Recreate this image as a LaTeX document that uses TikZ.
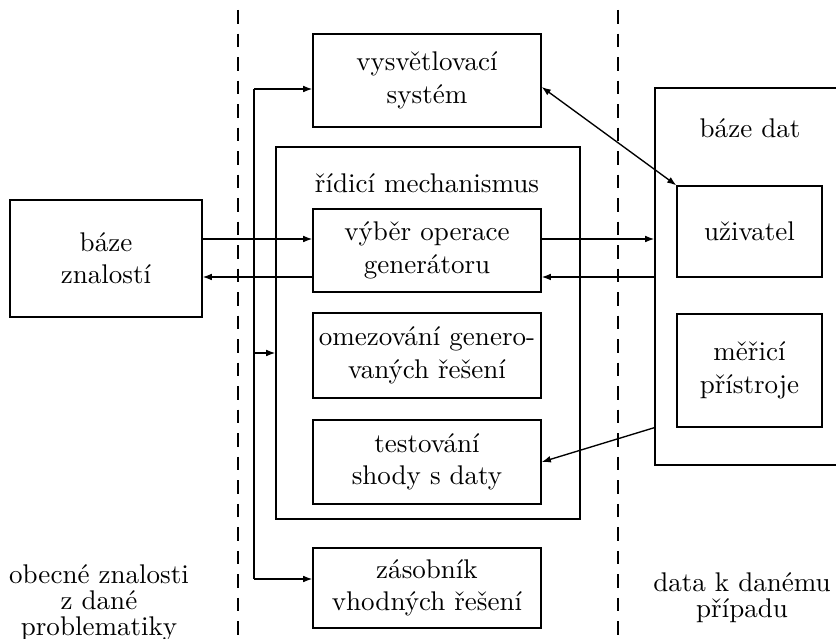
\documentclass[tikz,border=0pt]{standalone}
\usepackage{fontspec}
\usetikzlibrary{positioning}
\usetikzlibrary{arrows.meta}

\begin{document}
\begin{tikzpicture}[
    x=.37pt, y=-.37pt,
    line width=.5pt,
    blok/.style={draw, align=center, inner sep=0pt},
    popis/.style={align=center, inner sep=0pt},
    sipka/.style={-{Latex[length=3.4pt,width=2.5pt]}},
    obesipka/.style={{Latex[length=3.4pt,width=2.5pt]}-{Latex[length=3.4pt,width=2.5pt]}},
    hranice/.style={dash pattern=on 5pt off 3.7pt}
]

    \useasboundingbox (0,0) rectangle (836,639);

    % Hranice
    \draw[hranice] (238,10) -- (238,639);
    \draw[hranice] (618,10) -- (618,639);

    % Baze znalosti
    \node[blok, minimum width=71.04pt, minimum height=43.29pt] (znal) at (106,258.5) {báze\\znalostí};

    % Ridici mechanismus
    \node[blok, minimum width=112.48pt, minimum height=137.64pt] (ridici) at (428,333) {};
    \node[popis] (ridicilbl) at (427,183) {řídicí mechanismus};

    \node[blok, minimum width=84.36pt, minimum height=34.41pt] (vys) at (427,80.5) {vysvětlovací\\systém};
    \node[blok, minimum width=84.36pt, minimum height=30.71pt] (vyber) at (427,250.5) {výběr operace\\generátoru};
    \node[blok, minimum width=84.36pt, minimum height=31.45pt] (omez) at (427,355.5) {omezování genero-\\vaných řešení};
    \node[blok, minimum width=84.36pt, minimum height=31.08pt] (test) at (427,462) {testování\\shody s daty};
    \node[blok, minimum width=84.36pt, minimum height=29.6pt] (zas) at (427,588) {zásobník\\vhodných řešení};

    % Baze dat
    \node[blok, minimum width=70.67pt, minimum height=139.49pt] (data) at (750.5,276.5) {};
    \node[popis] (datalbl) at (750,128) {báze dat};
    \node[blok, minimum width=53.65pt, minimum height=33.67pt] (uziv) at (749.5,231.5) {uživatel};
    \node[blok, minimum width=53.65pt, minimum height=41.81pt] (meric) at (749.5,370.5) {měřicí\\přístroje};

    % Popisky oblasti
    \node[popis] (obecne) at (99,603) {obecné znalosti\\[-2.4pt]z dané\\[-2.4pt]problematiky};
    \node[popis] (pripad) at (742,598) {data k danému\\[-2.4pt]případu};

    % Propojeni
    \coordinate (tam) at (0,239);
    \coordinate (zpet) at (0,277);

    \draw[sipka] (znal.east |- tam) -- (vyber.west |- tam);
    \draw[sipka] (vyber.west |- zpet) -- (znal.east |- zpet);
    \draw[sipka] (vyber.east |- tam) -- (data.west |- tam);
    \draw[sipka] (data.west |- zpet) -- (vyber.east |- zpet);

    \draw[obesipka] ([yshift=-2.4pt]vys.east) -- (uziv.north west);
    \draw[sipka] (data.west |- meric.south) -- (test.east);

    % Rozvod vlevo
    \coordinate (horni) at (254,89);
    \coordinate (rozvod) at (254,353);
    \coordinate (dolni) at (254,579);

    \draw (horni) -- (dolni);
    \draw[sipka] (horni) -- (horni -| vys.west);
    \draw[sipka] (rozvod) -- (rozvod -| ridici.west);
    \draw[sipka] (dolni) -- (dolni -| zas.west);

\end{tikzpicture}
\end{document}
